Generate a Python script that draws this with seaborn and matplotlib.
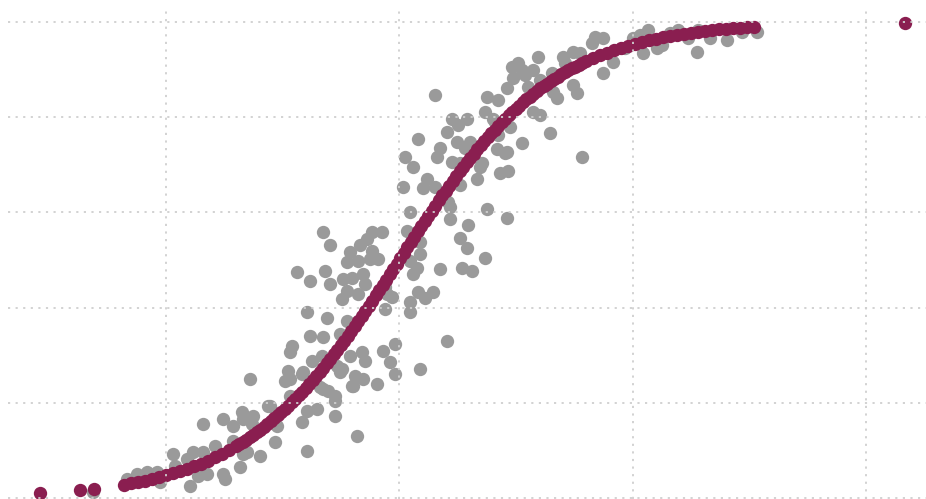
import matplotlib
matplotlib.use("Agg")
import matplotlib.pyplot as plt
import seaborn as sns
import pandas as pd

# observed points (grey)
obs_x = [
    -0.313, -0.167, -0.124, -0.081, -0.039, -0.026, 0.030, 0.039, 0.090, 0.116,
    0.159, 0.159, 0.103, 0.137, 0.176, 0.210, 0.244, 0.244, 0.253, 0.287,
    0.287, 0.326, 0.330, 0.373, 0.369, 0.317, 0.330, 0.403, 0.360, 0.437,
    0.467, 0.476, 0.347, 0.604, 0.819, 0.583, 0.724, 0.724, 0.647, 0.604,
    0.531, 0.673, 0.694, 0.904, 0.802, 0.844, 0.810, 0.746, 0.982, 1.089,
    0.531, 0.583, 0.446,
    0.673, 0.703, 0.883, 0.926, 0.832, 0.862, 0.789, 0.883, 0.776, 0.823,
    0.874, 0.909, 0.562, 0.617, 0.682, 0.703, 0.759, 0.797, 0.844, 0.853,
    0.823, 0.754, 0.776, 0.947, 0.969, 0.604, 0.690, 0.776, 0.939, 0.617,
    0.673, 0.746, 0.540, 0.531, 0.626, 0.669, 0.733, 0.789, 0.840, 0.853,
    0.930, 0.960, 0.982, 0.523, 0.510, 0.587, 0.660, 0.754, 0.797, 0.724,
    1.153, 1.376, 1.423, 1.462, 1.552, 1.367, 1.226, 1.290, 1.252, 1.410,
    1.204, 1.474, 1.573, 1.080, 1.247, 1.303, 1.423, 1.526, 1.174, 1.282,
    1.419, 1.462, 1.024, 1.162, 1.226, 1.346, 1.059, 1.260, 1.432, 1.466,
    1.333, 1.119, 1.102, 1.153, 1.260, 1.016, 1.209, 1.217, 1.376, 1.046,
    1.217, 1.294, 1.462, 1.033, 1.089, 1.260, 1.290, 1.367, 1.046, 1.089,
    1.174, 1.269, 1.312, 1.059, 1.076, 0.939, 1.080, 1.110, 1.144, 1.046,
    1.046, 1.204,
    1.839, 1.873, 1.826, 2.002, 1.745, 1.702, 1.775, 1.710, 1.595, 1.655,
    1.483, 1.509, 1.526, 1.573, 1.487, 1.539, 1.603, 1.916, 1.873, 1.745,
    1.762, 1.659, 1.676, 1.603, 1.402, 1.646, 1.453, 1.783, 1.354,
    2.066, 2.032, 2.002, 1.967, 2.045, 2.105, 2.126, 2.195, 2.237, 2.276,
    2.280, 2.332, 2.405, 2.469, 2.533, 2.160,
]
obs_y = [
    0.013, 0.040, 0.050, 0.055, 0.055, 0.034, 0.092, 0.067, 0.082, 0.096,
    0.096, 0.155, 0.025, 0.046, 0.050, 0.109, 0.166, 0.050, 0.040, 0.151,
    0.119, 0.180, 0.166, 0.172, 0.155, 0.065, 0.092, 0.088, 0.249, 0.193,
    0.117, 0.151, 0.096, 0.099, 0.130, 0.159, 0.172, 0.203, 0.187, 0.182,
    0.214, 0.229, 0.224, 0.239, 0.235, 0.249, 0.256, 0.264, 0.260, 0.270,
    0.249, 0.260, 0.193,
    0.558, 0.532, 0.558, 0.558, 0.532, 0.543, 0.516, 0.518, 0.495, 0.497,
    0.501, 0.501, 0.474, 0.455, 0.476, 0.449, 0.459, 0.463, 0.470, 0.449,
    0.428, 0.417, 0.434, 0.428, 0.423, 0.390, 0.379, 0.371, 0.396, 0.340,
    0.338, 0.344, 0.319, 0.306, 0.287, 0.298, 0.277, 0.298, 0.306, 0.287,
    0.308, 0.285, 0.323, 0.266, 0.245, 0.264, 0.233, 0.270, 0.235, 0.214,
    0.847, 0.843, 0.836, 0.862, 0.864, 0.811, 0.795, 0.795, 0.784, 0.790,
    0.769, 0.780, 0.811, 0.753, 0.748, 0.748, 0.763, 0.746, 0.736, 0.736,
    0.732, 0.727, 0.717, 0.717, 0.706, 0.696, 0.696, 0.704, 0.683, 0.686,
    0.669, 0.669, 0.652, 0.654, 0.658, 0.654, 0.621, 0.612, 0.606, 0.600,
    0.585, 0.574, 0.589, 0.560, 0.537, 0.547, 0.526, 0.505, 0.497, 0.512,
    0.480, 0.484, 0.476, 0.470, 0.484, 0.444, 0.432, 0.421, 0.432, 0.411,
    0.390, 0.329,
    0.969, 0.966, 0.956, 0.966, 0.937, 0.927, 0.935, 0.914, 0.927, 0.893,
    0.906, 0.914, 0.899, 0.899, 0.883, 0.889, 0.878, 0.916, 0.893, 0.868,
    0.851, 0.853, 0.841, 0.805, 0.795, 0.767, 0.725, 0.717, 0.704,
    0.983, 0.973, 0.962, 0.945, 0.935, 0.945, 0.952, 0.983, 0.966, 0.937,
    0.983, 0.966, 0.962, 0.979, 0.979, 0.977,
]

# fitted probabilities (maroon)
fit_x = [
    -0.54, -0.37, -0.31,
    -0.18, -0.15, -0.12, -0.09, -0.06, -0.03, 0.00, 0.03, 0.06, 0.09,
    0.12, 0.15, 0.18, 0.21, 0.24, 0.27, 0.30, 0.33, 0.36, 0.39,
    0.42, 0.45, 0.48, 0.51, 0.54, 0.57, 0.60, 0.63, 0.66, 0.69,
    0.72, 0.75, 0.78, 0.81, 0.84, 0.87, 0.90, 0.93, 0.96, 0.99,
    1.02, 1.05, 1.08, 1.11, 1.14, 1.17, 1.20, 1.23, 1.26, 1.29,
    1.32, 1.35, 1.38, 1.41, 1.44, 1.47, 1.50, 1.53, 1.56, 1.59,
    1.62, 1.65, 1.68, 1.71, 1.74, 1.77, 1.80, 1.83, 1.86, 1.89,
    1.92, 1.95, 1.98, 2.01, 2.04, 2.07, 2.10, 2.13, 2.16, 2.19,
    2.22, 2.25, 2.28, 2.31, 2.34, 2.37, 2.40, 2.43, 2.46, 2.49,
    2.52,
    3.17,
    0.315, 0.345, 0.375, 0.405, 0.435, 0.465, 0.495, 0.525, 0.555, 0.585,
    0.615, 0.645, 0.675, 0.705, 0.735, 0.765, 0.795, 0.825, 0.855, 0.885,
    0.915, 0.945, 0.975, 1.005, 1.035, 1.065, 1.095, 1.125, 1.155, 1.185,
    1.215, 1.245, 1.275, 1.305, 1.335, 1.365, 1.395, 1.425, 1.455, 1.485,
    1.515, 1.545, 1.575, 1.605, 1.635, 1.665, 1.695, 1.725, 1.755, 1.785,
]
fit_y = [
    0.0098, 0.0162, 0.0191,
    0.0282, 0.0308, 0.0336, 0.0366, 0.0399, 0.0435, 0.0474, 0.0517, 0.0563, 0.0612,
    0.0666, 0.0724, 0.0787, 0.0855, 0.0928, 0.1007, 0.1091, 0.1182, 0.1279, 0.1382,
    0.1493, 0.1611, 0.1736, 0.1870, 0.2010, 0.2158, 0.2315, 0.2479, 0.2650, 0.2829,
    0.3015, 0.3208, 0.3407, 0.3612, 0.3822, 0.4037, 0.4256, 0.4477, 0.4700, 0.4925,
    0.5150, 0.5374, 0.5597, 0.5818, 0.6035, 0.6248, 0.6457, 0.6660, 0.6857, 0.7047,
    0.7231, 0.7408, 0.7577, 0.7738, 0.7892, 0.8038, 0.8176, 0.8306, 0.8429, 0.8544,
    0.8653, 0.8755, 0.8849, 0.8938, 0.9020, 0.9097, 0.9168, 0.9234, 0.9296, 0.9352,
    0.9405, 0.9453, 0.9498, 0.9539, 0.9577, 0.9612, 0.9644, 0.9674, 0.9701, 0.9726,
    0.9749, 0.9770, 0.9790, 0.9807, 0.9824, 0.9839, 0.9852, 0.9865, 0.9876, 0.9887,
    0.9896,
    0.9985,
    0.1135, 0.1229, 0.1330, 0.1437, 0.1551, 0.1673, 0.1802, 0.1939, 0.2083, 0.2236,
    0.2396, 0.2563, 0.2739, 0.2921, 0.3111, 0.3307, 0.3509, 0.3717, 0.3929, 0.4146,
    0.4366, 0.4589, 0.4813, 0.5037, 0.5262, 0.5486, 0.5708, 0.5927, 0.6142, 0.6353,
    0.6559, 0.6759, 0.6953, 0.7140, 0.7320, 0.7493, 0.7658, 0.7816, 0.7966, 0.8108,
    0.8242, 0.8369, 0.8488, 0.8600, 0.8704, 0.8803, 0.8894, 0.8980, 0.9059, 0.9133,
]

x_grid = [0, 1, 2, 3]
y_grid = [0.0, 0.2, 0.4, 0.6, 0.8, 1.0]

GREY = "#9a9a9a"
MAROON = "#8a1e50"


def main():
    sns.set_style("white")
    obs = pd.DataFrame({"x": obs_x, "y": obs_y})
    fit = pd.DataFrame({"x": fit_x, "y": fit_y}).sort_values("x")

    fig = plt.figure(figsize=(9.26, 4.99), dpi=100)
    ax = fig.add_axes([8 / 926, 0, 918 / 926, 491 / 499])

    sns.scatterplot(data=obs, x="x", y="y", color=GREY, s=92,
                    linewidth=0, ax=ax)
    sns.scatterplot(data=fit, x="x", y="y", color=MAROON, s=92,
                    linewidth=0, ax=ax)

    ax.set_xlim(-0.677, 3.258)
    ax.set_ylim(-0.002, 1.029)
    ax.set_xticks(x_grid)
    ax.set_yticks(y_grid)
    ax.set_axisbelow(False)
    ax.grid(True, color="#cfcfcf", linestyle=(0, (1.2, 3)), linewidth=1.3)
    ax.tick_params(length=0, labelbottom=False, labelleft=False)
    ax.set_xlabel("")
    ax.set_ylabel("")
    for sp in ax.spines.values():
        sp.set_visible(False)

    fig.savefig("out.png", dpi=100)
    plt.close(fig)


if __name__ == "__main__":
    main()
